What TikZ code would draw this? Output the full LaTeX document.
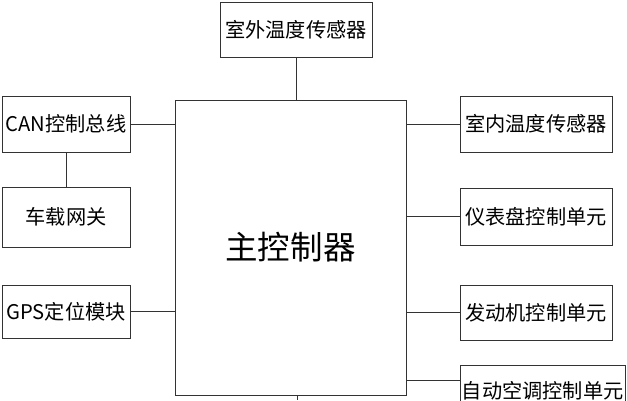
\documentclass[tikz,border=0pt]{standalone}
\usepackage{fontspec}
\setmainfont{Noto Sans CJK SC}
\usetikzlibrary{positioning}
\begin{document}
\begin{tikzpicture}[x=0.4mm, y=-0.4mm]
            \tikzstyle{unit} = [draw=black!80, line width=0.5pt, fill=white, inner sep=0pt, font=\fontsize{23}{25}\selectfont]
            \tikzstyle{link} = [draw=black!80, line width=0.5pt]
            \useasboundingbox (0,0) rectangle (627,400);

            \node[unit, minimum width=92.4mm, minimum height=118mm, font=\fontsize{37}{40}\selectfont] (ctrl) at (290.5,247.5) {主控制器};
            \node[unit, minimum width=60.8mm, minimum height=22mm] (outside) at (296,29.5) {室外温度传感器};
            \node[unit, minimum width=51.2mm, minimum height=22.4mm] (can) at (66,124) {CAN控制总线};
            \node[unit, minimum width=51.2mm, minimum height=24mm] (gateway) at (66,217) {车载网关};
            \node[unit, minimum width=51.2mm, minimum height=21.2mm] (gps) at (66,311.5) {GPS定位模块};
            \node[unit, minimum width=60.8mm, minimum height=22.4mm] (indoor) at (536,124) {室内温度传感器};
            \node[unit, minimum width=60.8mm, minimum height=22.8mm] (dash) at (536,216.5) {仪表盘控制单元};
            \node[unit, minimum width=60.8mm, minimum height=22mm] (engine) at (536,312.5) {发动机控制单元};
            \node[unit, minimum width=66mm, minimum height=16mm, anchor=north west, text depth=0pt] (aircon) at (460,365) {\raisebox{-3.6mm}{自动空调控制单元}};
            \coordinate (down) at (297,400);

            \draw[link] (outside) -- (ctrl.north -| outside);
            \draw[link] (can) -- (ctrl.west |- can);
            \draw[link] (can) -- (gateway);
            \draw[link] (gps) -- (ctrl.west |- gps);
            \draw[link] (indoor) -- (ctrl.east |- indoor);
            \draw[link] (dash) -- (ctrl.east |- dash);
            \draw[link] (engine) -- (ctrl.east |- engine);
            \draw[link] (aircon.west |- 0,380) -- (ctrl.east |- 0,380);
            \draw[link] (ctrl.south -| down) -- (down);
        \end{tikzpicture}
\end{document}
